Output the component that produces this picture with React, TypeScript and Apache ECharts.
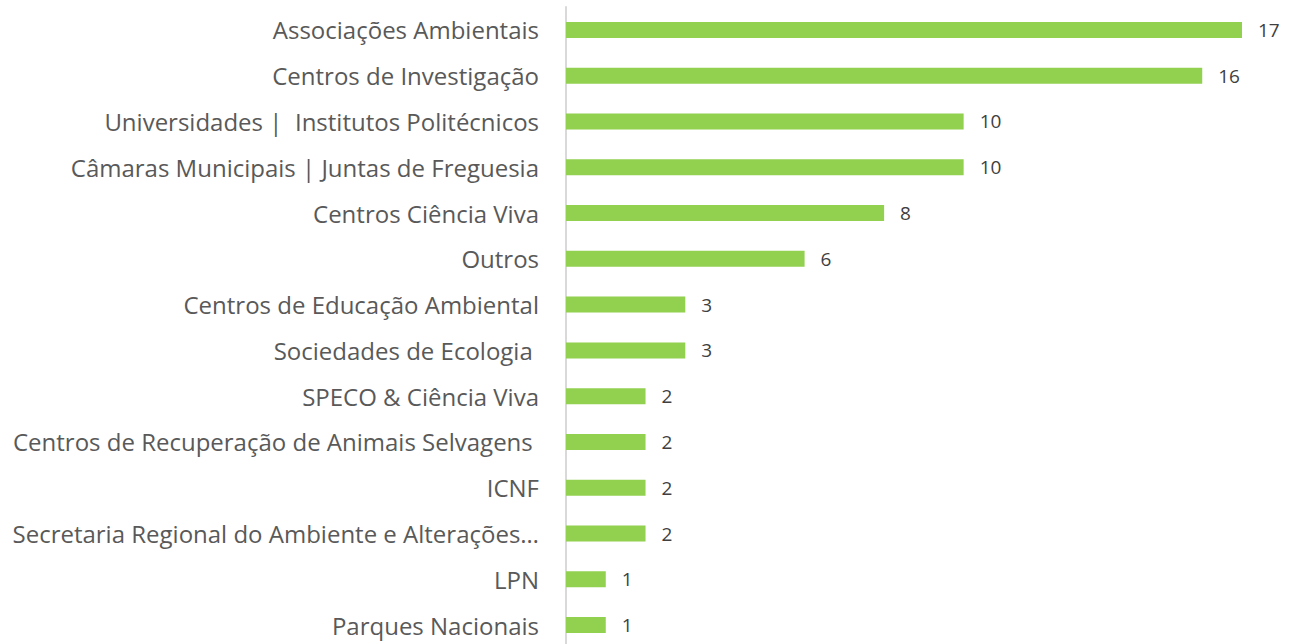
import React, { useEffect, useRef } from "react";
import * as echarts from "echarts";

const categories = [
  "Associações Ambientais",
  "Centros de Investigação",
  "Universidades |  Institutos Politécnicos",
  "Câmaras Municipais | Juntas de Freguesia",
  "Centros Ciência Viva",
  "Outros",
  "Centros de Educação Ambiental",
  "Sociedades de Ecologia ",
  "SPECO & Ciência Viva",
  "Centros de Recuperação de Animais Selvagens ",
  "ICNF",
  "Secretaria Regional do Ambiente e Alterações…",
  "LPN",
  "Parques Nacionais",
];
const values = [17, 16, 10, 10, 8, 6, 3, 3, 2, 2, 2, 2, 1, 1];

export default function App() {
  const ref = useRef<HTMLDivElement>(null);
  useEffect(() => {
    if (!ref.current) return;
    const chart = echarts.init(ref.current, null, { renderer: "svg" });
    chart.setOption({
      animation: false,
      grid: { left: 566, right: 55, top: 7, height: 641 },
      xAxis: {
        type: "value",
        min: 0,
        max: 17,
        show: false,
      },
      yAxis: {
        type: "category",
        inverse: true,
        data: categories,
        axisLine: { show: true, lineStyle: { color: "#d9d9d9", width: 2 } },
        axisTick: { show: false },
        axisLabel: {
          color: "#595959",
          fontSize: 24,
          fontFamily: "Open Sans",
          margin: 27,
        },
      },
      series: [
        {
          type: "bar",
          data: values,
          barWidth: 16,
          itemStyle: { color: "#92D050" },
          label: {
            show: true,
            position: "right",
            distance: 16,
            color: "#404040",
            fontSize: 19,
            fontFamily: "Open Sans",
          },
        },
      ],
    });
    return () => chart.dispose();
  }, []);
  return (
    <div style={{ position: "absolute", left: 0, top: 0, width: 1297, height: 644, overflow: "hidden" }}>
      <div ref={ref} style={{ width: 1297, height: 660 }} />
    </div>
  );
}
